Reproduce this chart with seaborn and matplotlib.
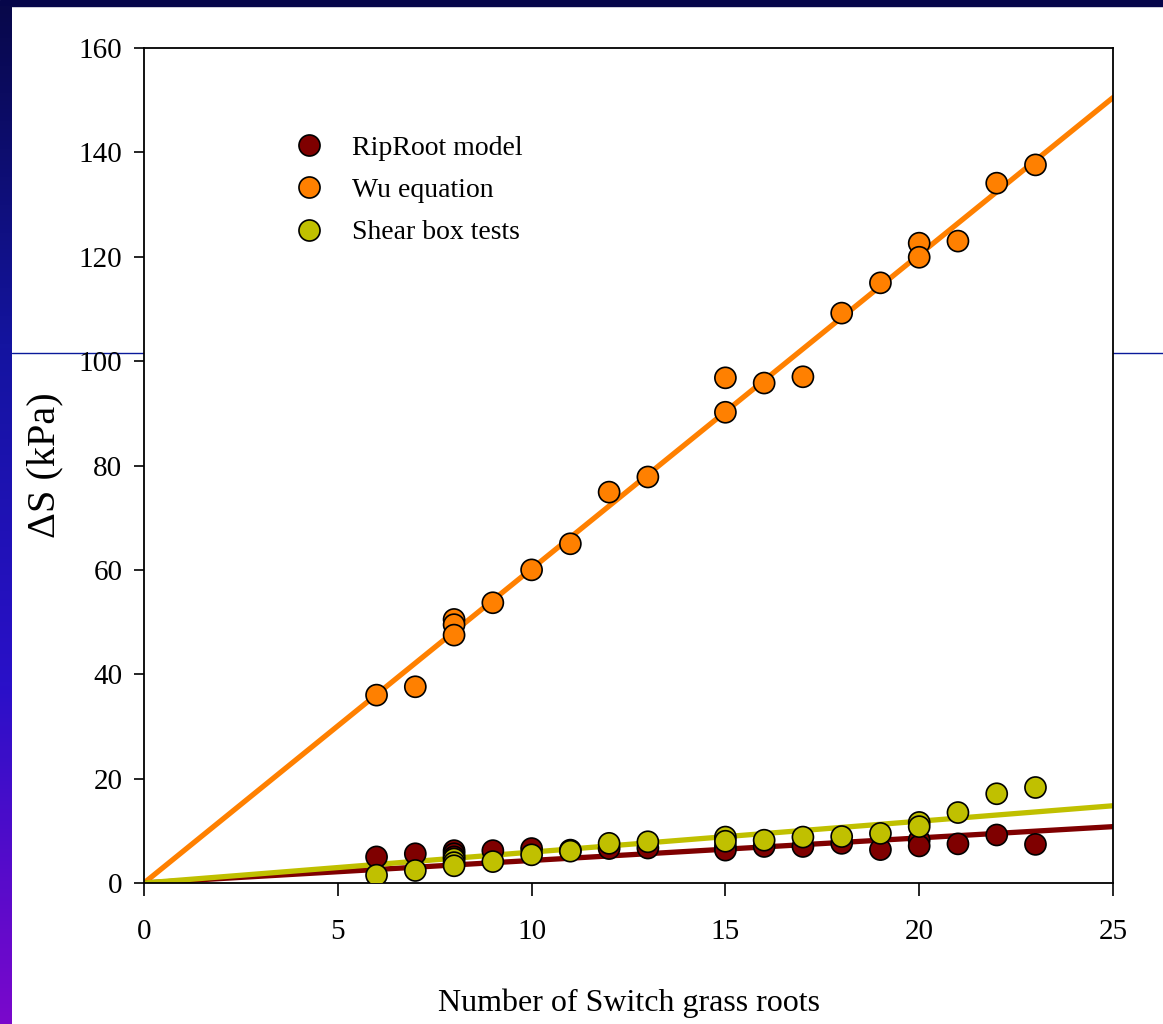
import numpy as np
import pandas as pd
import matplotlib.pyplot as plt
import seaborn as sns
from matplotlib.lines import Line2D
from matplotlib.patches import Rectangle
from matplotlib.colors import LinearSegmentedColormap

# data
roots = [6, 7, 8, 8, 8, 9, 10, 11, 12, 13, 15, 15, 16, 17, 18, 19, 20, 20, 21, 22, 23]
riproot = [5.0, 5.6, 6.2, 5.6, 5.0, 6.2, 6.6, 6.3, 6.6, 6.7, 7.0, 6.3, 7.0, 7.0, 7.6,
           6.4, 8.2, 7.1, 7.5, 9.2, 7.4]
wu = [36.0, 37.6, 50.5, 49.5, 47.5, 53.7, 60.0, 65.0, 74.9, 77.8, 96.8, 90.2, 95.8,
      97.0, 109.2, 115.0, 122.6, 119.9, 123.0, 134.1, 137.6]
shear = [1.5, 2.4, 4.6, 3.9, 3.3, 4.1, 5.4, 6.1, 7.6, 7.9, 8.8, 8.0, 8.2, 8.8, 8.9,
         9.5, 11.6, 10.8, 13.5, 17.1, 18.3]

# fitted lines through origin
fit_x = [0, 25]
riproot_fit = [0, 10.8]
wu_fit = [0, 150.5]
shear_fit = [0, 14.8]

labels = ["RipRoot model", "Wu equation", "Shear box tests"]
colors = {"RipRoot model": "#7f0000", "Wu equation": "#ff8000", "Shear box tests": "#c0c000"}

pts = pd.concat([
    pd.DataFrame({"roots": roots, "dS": riproot, "series": labels[0]}),
    pd.DataFrame({"roots": roots, "dS": wu, "series": labels[1]}),
    pd.DataFrame({"roots": roots, "dS": shear, "series": labels[2]}),
], ignore_index=True)

fits = pd.concat([
    pd.DataFrame({"roots": fit_x, "dS": wu_fit, "series": labels[1]}),
    pd.DataFrame({"roots": fit_x, "dS": riproot_fit, "series": labels[0]}),
    pd.DataFrame({"roots": fit_x, "dS": shear_fit, "series": labels[2]}),
], ignore_index=True)

sns.set_style("ticks")
plt.rcParams["font.family"] = ["Liberation Serif", "DejaVu Serif"]
plt.rcParams["text.color"] = "black"
plt.rcParams["axes.labelcolor"] = "black"

fig = plt.figure(figsize=(11.63, 10.24), dpi=100)

# slide decoration: top bar, left gradient bar, thin blue rule (behind the plot)
fig.patches.append(Rectangle((0, 1 - 6 / 1024), 1, 6 / 1024, transform=fig.transFigure,
                             color="#06064a", zorder=-2))
grad_ax = fig.add_axes([0, 0, 12 / 1163, 1 - 6 / 1024])
grad = np.linspace(0, 1, 256).reshape(-1, 1)
cmap = LinearSegmentedColormap.from_list("slide", ["#08084a", "#1414a0", "#2a10c8", "#7a08cc"])
grad_ax.imshow(grad, aspect="auto", cmap=cmap)
grad_ax.axis("off")
fig.lines.append(Line2D([12 / 1163, 1], [1 - 353 / 1024] * 2, transform=fig.transFigure,
                        color="#0a1a9a", lw=1, zorder=-1))

ax = fig.add_axes([144 / 1163, 1 - 883 / 1024, 969 / 1163, 835 / 1024])
ax.set_zorder(1)
ax.set_facecolor("white")

sns.lineplot(data=fits, x="roots", y="dS", hue="series", palette=colors,
             linewidth=3.8, legend=False, ax=ax, zorder=2)
sns.scatterplot(data=pts, x="roots", y="dS", hue="series", palette=colors,
                s=230, edgecolor="black", linewidth=1.2, ax=ax, zorder=3)

ax.set_xlim(0, 25)
ax.set_ylim(0, 160)
ax.set_xticks(range(0, 26, 5))
ax.set_yticks(range(0, 161, 20))
ax.tick_params(axis="both", direction="out", width=1.2, labelsize=21, colors="black")
ax.tick_params(axis="y", length=7.5, pad=8)
ax.tick_params(axis="x", length=9, pad=17)
for s in ax.spines.values():
    s.set_linewidth(1.3)
    s.set_color("black")

ax.set_xlabel("Number of Switch grass roots", fontsize=23)
ax.set_ylabel("\u0394S (kPa)", fontsize=29)
ax.xaxis.set_label_coords(0.5, -0.1437)
ax.xaxis.label.set_verticalalignment("center")
ax.yaxis.set_label_coords(-0.102, 0.5)
ax.yaxis.label.set_verticalalignment("center")

leg = ax.legend(title=None, frameon=False, loc="upper left", bbox_to_anchor=(0.116, 0.925),
                fontsize=20, handletextpad=0.55, labelspacing=0.6, markerscale=1.0)
for t in leg.get_texts():
    t.set_color("black")

fig.savefig("out.png", dpi=100, facecolor="white")
plt.close()
